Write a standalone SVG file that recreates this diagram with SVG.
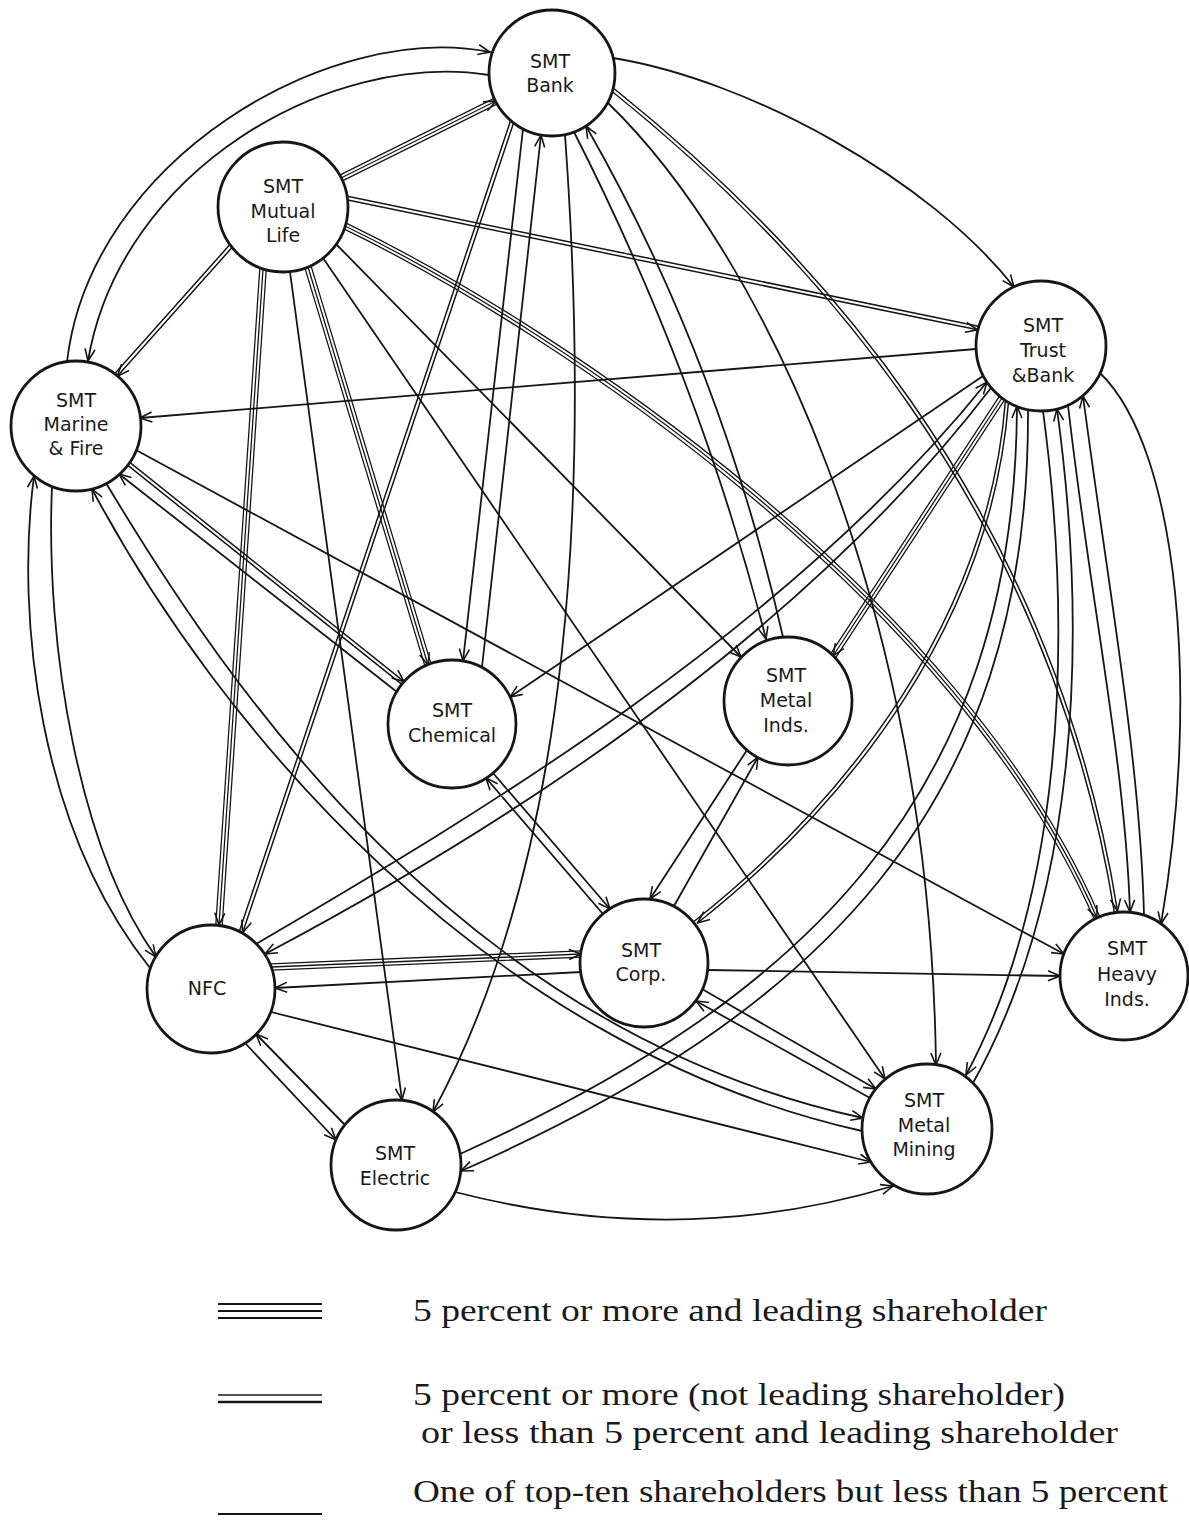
<svg xmlns="http://www.w3.org/2000/svg" width="1189" height="1521" viewBox="0 0 1189 1521">
<defs>
<style>
.e{fill:none;stroke:#161616;stroke-width:1.8;stroke-linecap:round}
.d{stroke-width:1.5}
.t{stroke-width:1.3}
.m{marker-end:url(#ah)}
.n circle{fill:#fff;stroke:#161616;stroke-width:2.8}
.n text{font-family:"DejaVu Sans","Liberation Sans",sans-serif;font-size:19px;text-anchor:middle;fill:#1a1a1a}
.lg{font-family:"Liberation Serif","DejaVu Serif",serif;font-size:31px;fill:#1a1a1a}
.ls{stroke:#161616;fill:none}
</style>
<marker id="ah" viewBox="0 0 14 12" refX="13" refY="6" markerWidth="14" markerHeight="12" markerUnits="userSpaceOnUse" orient="auto">
<path d="M1,1 L13,6 L1,11" fill="none" stroke="#161616" stroke-width="1.6"/>
</marker>
</defs>
<rect width="1189" height="1521" fill="#fff"/>
<g id="connectors">
<path class="e m" d="M67,362 C90,160 330,20 490,52"/>
<path class="e m" d="M489,75 C330,50 120,170 88,361"/>
<path class="e t" d="M341,178 L496,101" transform="translate(1.4,2.9)"/>
<path class="e t m" d="M341,178 L496,101"/>
<path class="e t" d="M341,178 L496,101" transform="translate(-1.4,-2.9)"/>
<path class="e m" d="M523,129 L463,661"/>
<path class="e m" d="M482,667 L541,135"/>
<path class="e m" d="M565,135 C590,480 575,850 433,1112"/>
<path class="e m" d="M574,132 Q700,380 766,639"/>
<path class="e m" d="M783,637 Q720,360 586,126"/>
<path class="e d m" d="M613,90 C800,240 1050,500 1116,912" transform="translate(1.5,-1)"/>
<path class="e d" d="M613,90 C800,240 1050,500 1116,912" transform="translate(-1.5,1)"/>
<path class="e m" d="M608,103 C760,250 930,600 936,1065"/>
<path class="e m" d="M613,58 C750,80 930,180 1014,287"/>
<path class="e d m" d="M231,246 L116,375" transform="translate(1.3,1.2)"/>
<path class="e d" d="M231,246 L116,375" transform="translate(-1.3,-1.2)"/>
<path class="e d m" d="M347,198 L978,328" transform="translate(-0.4,1.8)"/>
<path class="e d" d="M347,198 L978,328" transform="translate(0.4,-1.8)"/>
<path class="e t" d="M345,226 C560,330 960,600 1097,918" transform="translate(-2.2,2.4)"/>
<path class="e t m" d="M345,226 C560,330 960,600 1097,918"/>
<path class="e t" d="M345,226 C560,330 960,600 1097,918" transform="translate(2.2,-2.4)"/>
<path class="e t" d="M263,269 L219,925" transform="translate(3.2,0.2)"/>
<path class="e t m" d="M263,269 L219,925"/>
<path class="e t" d="M263,269 L219,925" transform="translate(-3.2,-0.2)"/>
<path class="e m" d="M290,272 L402,1100"/>
<path class="e t" d="M308,267 L428,665" transform="translate(3.1,-0.9)"/>
<path class="e t m" d="M308,267 L428,665"/>
<path class="e t" d="M308,267 L428,665" transform="translate(-3.1,0.9)"/>
<path class="e m" d="M336,244 L741,657"/>
<path class="e m" d="M323,258 L885,1079"/>
<path class="e m" d="M976,349 L140,418"/>
<path class="e m" d="M983,376 L510,697"/>
<path class="e t" d="M1002,398 L833,656" transform="translate(2.7,1.7)"/>
<path class="e t m" d="M1002,398 L833,656"/>
<path class="e t" d="M1002,398 L833,656" transform="translate(-2.7,-1.7)"/>
<path class="e m" d="M256,944 C450,830 780,640 987,382"/>
<path class="e m" d="M991,388 C790,650 480,840 265,954"/>
<path class="e m" d="M460,1154 C800,1000 1015,800 1017,406"/>
<path class="e m" d="M1028,410 C1030,810 815,1015 461,1171"/>
<path class="e d m" d="M1007,401 C990,620 850,800 696,922" transform="translate(1.5,1)"/>
<path class="e d" d="M1007,401 C990,620 850,800 696,922" transform="translate(-1.5,-1)"/>
<path class="e m" d="M1043,411 C1075,650 1060,900 966,1075"/>
<path class="e m" d="M973,1083 C1075,900 1090,650 1057,409"/>
<path class="e m" d="M1068,405 C1090,600 1125,760 1130,912"/>
<path class="e m" d="M1144,915 C1140,760 1110,600 1083,396"/>
<path class="e m" d="M1100,373 C1180,450 1200,700 1161,924"/>
<path class="e m" d="M493,773 L610,909"/>
<path class="e m" d="M603,914 L486,778"/>
<path class="e m" d="M747,750 L650,899"/>
<path class="e m" d="M674,906 L758,757"/>
<path class="e m" d="M708,970 L1060,976"/>
<path class="e t" d="M271,967 L581,954" transform="translate(0.1,3.2)"/>
<path class="e t m" d="M271,967 L581,954"/>
<path class="e t" d="M271,967 L581,954" transform="translate(-0.1,-3.2)"/>
<path class="e m" d="M581,972 L275,988"/>
<path class="e m" d="M702,989 L876,1089"/>
<path class="e m" d="M870,1098 L696,1001"/>
<path class="e m" d="M271,1012 L871,1162"/>
<path class="e m" d="M245,1043 L336,1140"/>
<path class="e m" d="M345,1125 L256,1034"/>
<path class="e m" d="M150,968 C40,830 15,620 34,476"/>
<path class="e m" d="M52,486 C45,650 80,850 156,957"/>
<path class="e d m" d="M512,122 L241,932" transform="translate(1.7,0.55)"/>
<path class="e d" d="M512,122 L241,932" transform="translate(-1.7,-0.55)"/>
<path class="e d m" d="M129,464 L403,683" transform="translate(1.1,-1.4)"/>
<path class="e d" d="M129,464 L403,683" transform="translate(-1.1,1.4)"/>
<path class="e m" d="M397,692 L119,474"/>
<path class="e m" d="M136,450 L1064,954"/>
<path class="e m" d="M106,483 C230,690 460,1030 863,1118"/>
<path class="e m" d="M862,1131 C480,1045 215,720 92,489"/>
<path class="e m" d="M455,1192 Q680,1250 893,1186"/>
</g>
<g id="node-bank" class="n"><circle cx="552" cy="73" r="63"/><text x="550" y="68">SMT</text><text x="550" y="92">Bank</text></g>
<g id="node-mutual-life" class="n"><circle cx="283" cy="207" r="65"/><text x="283" y="193">SMT</text><text x="283" y="218">Mutual</text><text x="283" y="242">Life</text></g>
<g id="node-marine-fire" class="n"><circle cx="76" cy="426" r="65"/><text x="76" y="407">SMT</text><text x="76" y="431">Marine</text><text x="76" y="455">&amp; Fire</text></g>
<g id="node-trust-bank" class="n"><circle cx="1041" cy="346" r="65"/><text x="1043" y="332">SMT</text><text x="1043" y="357">Trust</text><text x="1043" y="382">&amp;Bank</text></g>
<g id="node-chemical" class="n"><circle cx="452" cy="724" r="64"/><text x="452" y="717">SMT</text><text x="452" y="742">Chemical</text></g>
<g id="node-metal-inds" class="n"><circle cx="788" cy="701" r="64"/><text x="786" y="682">SMT</text><text x="786" y="707">Metal</text><text x="786" y="732">Inds.</text></g>
<g id="node-nfc" class="n"><circle cx="211" cy="989" r="64"/><text x="207" y="995">NFC</text></g>
<g id="node-corp" class="n"><circle cx="644" cy="963" r="64"/><text x="641" y="957">SMT</text><text x="641" y="981">Corp.</text></g>
<g id="node-heavy-inds" class="n"><circle cx="1124" cy="976" r="64"/><text x="1127" y="955">SMT</text><text x="1127" y="981">Heavy</text><text x="1127" y="1006">Inds.</text></g>
<g id="node-metal-mining" class="n"><circle cx="927" cy="1129" r="65"/><text x="924" y="1107">SMT</text><text x="924" y="1132">Metal</text><text x="924" y="1156">Mining</text></g>
<g id="node-electric" class="n"><circle cx="396" cy="1165" r="65"/><text x="395" y="1160">SMT</text><text x="395" y="1185">Electric</text></g>
<g id="legend">
<line class="ls" x1="218" y1="1304" x2="322" y2="1304" stroke-width="2"/>
<line class="ls" x1="218" y1="1311" x2="322" y2="1311" stroke-width="2"/>
<line class="ls" x1="218" y1="1318" x2="322" y2="1318" stroke-width="2"/>
<text class="lg" x="413" y="1321" textLength="634" lengthAdjust="spacingAndGlyphs">5 percent or more and leading shareholder</text>
<line class="ls" x1="218" y1="1395" x2="322" y2="1395" stroke-width="1.6"/>
<line class="ls" x1="218" y1="1402" x2="322" y2="1402" stroke-width="2.4"/>
<text class="lg" x="413" y="1405" textLength="652" lengthAdjust="spacingAndGlyphs">5 percent or more (not leading shareholder)</text>
<text class="lg" x="421" y="1443" textLength="697" lengthAdjust="spacingAndGlyphs">or less than 5 percent and leading shareholder</text>
<line class="ls" x1="218" y1="1514" x2="322" y2="1514" stroke-width="2"/>
<text class="lg" x="413" y="1502" textLength="755" lengthAdjust="spacingAndGlyphs">One of top-ten shareholders but less than 5 percent</text>
</g>
</svg>
